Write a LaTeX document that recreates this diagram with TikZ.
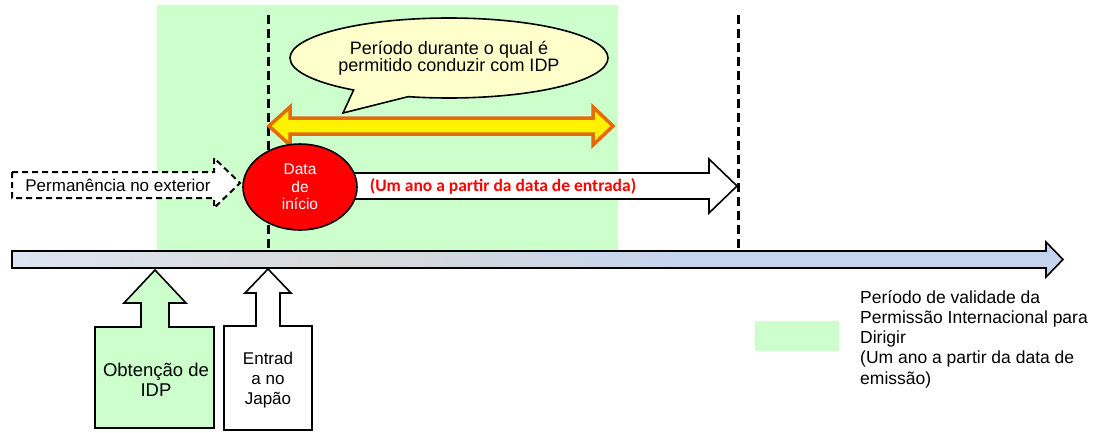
\documentclass[tikz,border=0pt]{standalone}
\usepackage{fontspec}
\setmainfont{Liberation Sans}
\newfontfamily\carlito{Carlito}
\usetikzlibrary{shapes.geometric,shapes.callouts}
\definecolor{validgreen}{HTML}{CCFFCC}
\definecolor{bubblefill}{HTML}{FFFFCC}
\definecolor{orangeline}{HTML}{E36C09}
\definecolor{lineleft}{HTML}{DDE3F1}
\definecolor{linemid}{HTML}{D9D9D9}
\definecolor{lineright}{HTML}{C5D4EE}
\pgfdeclarehorizontalshading{timeshade}{100bp}{color(0bp)=(lineleft); color(25bp)=(lineleft); color(41bp)=(linemid); color(57bp)=(lineright); color(100bp)=(lineright)}
\tikzset{
  dashline/.style={line width=3pt, dash pattern=on 9pt off 5pt},
  blockarrow/.style={draw=black, line width=1.6pt, line join=miter, fill=white},
  txt/.style={inner sep=0pt, align=center},
}

\begin{document}
\begin{tikzpicture}[x=1pt,y=-1pt, font=\fontsize{17}{20}\selectfont]
  \useasboundingbox (0,0) rectangle (1097,432);
  \fill[validgreen] (157,5) rectangle (618,250);   %Validity of the IDP
  \draw[dashline] (268,15) -- (268,250);           %Entry date
  \draw[dashline] (738,15) -- (738,250);           %One year later

  %Time line
  \shadedraw[shading=timeshade, line width=1.6pt, line join=miter]
    (12,251) -- (1046,251) -- (1046,242) -- (1063,259.5) -- (1046,277) -- (1046,268) -- (12,268) -- cycle;

  %Stay abroad
  \draw[blockarrow, line width=2pt, dash pattern=on 6pt off 4pt]
    (12,172) -- (214,172) -- (214,158) -- (240,183) -- (214,208) -- (214,198) -- (12,198) -- cycle;
  \node[txt] (abroad) at (118,185) {Permanência no exterior};

  %Driving period
  \draw[fill=yellow, draw=orangeline, line width=3.5pt, line join=miter]
    (269,126) -- (290,107) -- (290,118) -- (593,118) -- (593,107) -- (613,126)
    -- (593,145) -- (593,134) -- (290,134) -- (290,145) -- cycle;
  \node[ellipse callout, draw=black, fill=bubblefill, line width=1.6pt, txt,
        minimum width=318pt, minimum height=80pt, callout pointer arc=22,
        callout absolute pointer={(343,113)}, font=\fontsize{18}{17}\selectfont]
    (bubble) at (449,58) {Período durante o qual é\\permitido conduzir com IDP};

  %One year from the entry
  \draw[blockarrow] (330,173) -- (709,173) -- (709,159) -- (737,186) -- (709,213) -- (709,199) -- (330,199) -- cycle;
  \node[ellipse, draw=black, fill=red, line width=1.6pt, txt, text=white,
        minimum width=114pt, minimum height=86pt, font=\fontsize{15.5}{17.5}\selectfont]
    (start) at (300,187) {Data\\de\\início};
  \node[txt, text=red, font=\carlito\bfseries\fontsize{17.5}{18}\selectfont] (oneyear) at (503,186)
    {(Um ano a partir da data de entrada)};

  %Obtaining the IDP
  \filldraw[blockarrow, fill=validgreen] (95,327) -- (141,327) -- (141,303) -- (124,303) -- (155,270) -- (186,303)
    -- (169,303) -- (169,327) -- (214,327) -- (214,428) -- (95,428) -- cycle;
  \node[txt, font=\fontsize{18.5}{20}\selectfont] (obtain) at (156,380) {Obtenção de\\IDP};

  %Entry into Japan
  \filldraw[blockarrow] (224,326) -- (256,326) -- (256,293) -- (245,293) -- (268,269) -- (291,293)
    -- (280,293) -- (280,326) -- (312,326) -- (312,430) -- (224,430) -- cycle;
  \node[txt] (entry) at (268,380) {Entrad\\a no\\Japão};

  %Legend
  \fill[validgreen] (755,321) rectangle (839,351);
  \node[inner sep=0pt, align=left, anchor=north west, font=\fontsize{17.5}{20.3}\selectfont] (legend) at (860,290)
    {Período de validade da\\Permissão Internacional para\\Dirigir\\(Um ano a partir da data de\\emissão)};
\end{tikzpicture}
\end{document}
